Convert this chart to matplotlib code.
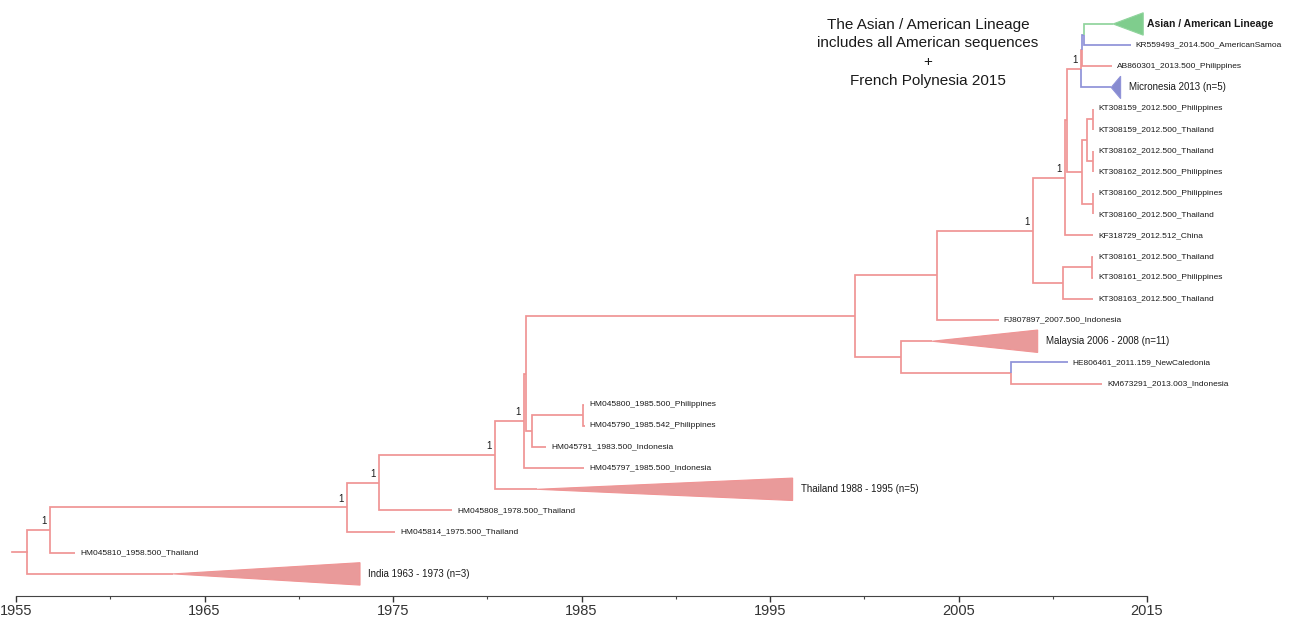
import matplotlib
matplotlib.use('Agg')
import matplotlib.pyplot as plt
from matplotlib.patches import Polygon

plt.rcParams['font.family'] = ['Liberation Sans', 'DejaVu Sans']

RED = '#f09494'
RED_FILL = '#e99a9a'
BLUE = '#8f92d8'
GREEN = '#90d49d'

# internal nodes (time of node in years)
node_names = ['root', 'A', 'B', 'C', 'D', 'E1', 'E2', 'H', 'P4', 'F', 'I', 'J', 'K',
              'L', 'M', 'M2', 'N', 'N1', 'R', 'Z', 'X', 'S', 'S1', 'P1', 'P2', 'P3']
node_parents = [None, 'root', 'A', 'B', 'C', 'D', 'E1', 'E2', 'H', 'E2', 'F', 'F', 'J',
                'I', 'L', 'M', 'L', 'N', 'M2', 'R', 'Z', 'M2', 'S', 'S1', 'S1', 'S']
node_years = [1955.58, 1956.80, 1972.56, 1974.25, 1980.41, 1981.95, 1982.06, 1982.37,
              1985.08, 1999.51, 2003.86, 2001.95, 2007.79, 2008.95, 2010.66, 2010.74,
              2010.54, 2012.08, 2011.50, 2011.55, 2011.66, 2011.55, 2011.82, 2012.13,
              2012.13, 2012.13]
node_colors = {'X': BLUE}
supported = ['A', 'B', 'C', 'D', 'E1', 'L', 'M', 'R']  # posterior = 1
root_start = 1954.79

# leaves, top to bottom
leaf_labels = ['Asian / American Lineage', 'KR559493_2014.500_AmericanSamoa',
               'AB860301_2013.500_Philippines', 'Micronesia 2013 (n=5)',
               'KT308159_2012.500_Philippines', 'KT308159_2012.500_Thailand',
               'KT308162_2012.500_Thailand', 'KT308162_2012.500_Philippines',
               'KT308160_2012.500_Philippines', 'KT308160_2012.500_Thailand',
               'KF318729_2012.512_China', 'KT308161_2012.500_Thailand',
               'KT308161_2012.500_Philippines', 'KT308163_2012.500_Thailand',
               'FJ807897_2007.500_Indonesia', 'Malaysia 2006 - 2008 (n=11)',
               'HE806461_2011.159_NewCaledonia', 'KM673291_2013.003_Indonesia',
               'HM045800_1985.500_Philippines', 'HM045790_1985.542_Philippines',
               'HM045791_1983.500_Indonesia', 'HM045797_1985.500_Indonesia',
               'Thailand 1988 - 1995 (n=5)', 'HM045808_1978.500_Thailand',
               'HM045814_1975.500_Thailand', 'HM045810_1958.500_Thailand',
               'India 1963 - 1973 (n=3)']
leaf_parents = ['X', 'X', 'Z', 'R', 'P1', 'P1', 'P2', 'P2', 'P3', 'P3', 'M', 'N1', 'N1',
                'N', 'I', 'J', 'K', 'K', 'P4', 'P4', 'H', 'E1', 'D', 'C', 'B', 'A', 'root']
# tip date, or clade root date for collapsed clades
leaf_years = [2013.2, 2014.5, 2013.5, 2013.1, 2012.5, 2012.5, 2012.5, 2012.5, 2012.5,
              2012.5, 2012.512, 2012.5, 2012.5, 2012.5, 2007.5, 2003.6, 2011.159,
              2013.003, 1985.5, 1985.542, 1983.5, 1985.5, 1982.64, 1978.5, 1975.5,
              1958.5, 1963.33]
# youngest date of collapsed clades (None = single sequence)
leaf_ends = [2014.8, None, None, 2013.6, None, None, None, None, None, None, None, None,
             None, None, None, 2009.2, None, None, None, None, None, None, 1996.2, None,
             None, None, 1973.25]
leaf_colors = [GREEN, BLUE, RED, BLUE, RED, RED, RED, RED, RED, RED, RED, RED, RED, RED,
               RED, RED, BLUE, RED, RED, RED, RED, RED, RED, RED, RED, RED, RED]
fill_colors = {GREEN: '#7fcd8d', BLUE: '#878bd0', RED: RED_FILL}

tip_gap = 0.37
half = 0.53

fig = plt.figure(figsize=(12.9, 6.18), dpi=100)
ax = fig.add_axes([0, 0, 1, 1])

# build tree
children = {n: [] for n in node_names}
for n, p in zip(node_names, node_parents):
    if p is not None:
        children[p].append(n)
for lab, p in zip(leaf_labels, leaf_parents):
    children[p].append(lab)

xpos = dict(zip(node_names, node_years))
ypos = {lab: i for i, lab in enumerate(leaf_labels)}
parent_of = dict(zip(node_names, node_parents))
parent_of.update(zip(leaf_labels, leaf_parents))


def get_y(n):
    if n not in ypos:
        ys = [get_y(c) for c in children[n]]
        ypos[n] = (min(ys) + max(ys)) / 2
    return ypos[n]


get_y('root')

for lab, yr, end in zip(leaf_labels, leaf_years, leaf_ends):
    xpos[lab] = yr - tip_gap if end is None else yr

colors = {n: node_colors.get(n, RED) for n in node_names}
colors.update(zip(leaf_labels, leaf_colors))

# branches
for n, p in parent_of.items():
    if p is None:
        continue
    ax.plot([xpos[p], xpos[p], xpos[n]], [ypos[p], ypos[n], ypos[n]],
            color=colors[n], lw=1.25, solid_capstyle='butt', solid_joinstyle='miter')
ax.plot([root_start, xpos['root']], [ypos['root'], ypos['root']], color=RED, lw=1.25)

# tips and collapsed clades
for lab, yr, end, c in zip(leaf_labels, leaf_years, leaf_ends, leaf_colors):
    y = ypos[lab]
    if end is None:
        ax.annotate(lab, (xpos[lab], y), xytext=(3.6, 0), textcoords='offset points',
                    ha='left', va='center', fontsize=6, color='#1a1a1a')
    else:
        tri = Polygon([(yr, y), (end, y - half), (end, y + half)], closed=True,
                      facecolor=fill_colors[c], edgecolor=c, lw=0.8)
        ax.add_patch(tri)
        bold = lab.startswith('Asian')
        ax.annotate(lab, (end, y), xytext=(2.5 if bold else 6, 0), textcoords='offset points',
                    ha='left', va='center', fontsize=7.5 if bold else 7,
                    fontweight='bold' if bold else 'normal', color='#1a1a1a')

# posterior labels
for n in supported:
    ax.annotate('1', (xpos[n], ypos[n]), xytext=(-4.3, 6.2), textcoords='offset points',
                ha='center', va='center', fontsize=7, color='#1a1a1a')

ax.text(2003.38, 1.36, 'The Asian / American Lineage\nincludes all American sequences\n+\nFrench Polynesia 2015',
        ha='center', va='center', multialignment='center', fontsize=11, linespacing=1.42,
        color='#1a1a1a')

# time axis
ax.set_xlim(1954.151, 2022.586)
ax.set_ylim(28.085, -1.133)
for s in ['top', 'left', 'right']:
    ax.spines[s].set_visible(False)
ax.spines['bottom'].set_position(('data', 27.04))
ax.spines['bottom'].set_bounds(1955, 2015)
ax.spines['bottom'].set_color('#444444')
ax.set_yticks([])
ax.set_xticks(range(1955, 2016, 10))
ax.set_xticks(range(1960, 2015, 10), minor=True)
ax.tick_params(axis='x', which='major', direction='out', length=4, width=1,
               colors='#333333', labelsize=10.5, pad=2)
ax.tick_params(axis='x', which='minor', direction='out', length=2.5, width=0.8,
               colors='#444444')
ax.patch.set_visible(False)

fig.savefig('out.png', dpi=100, facecolor='white')
